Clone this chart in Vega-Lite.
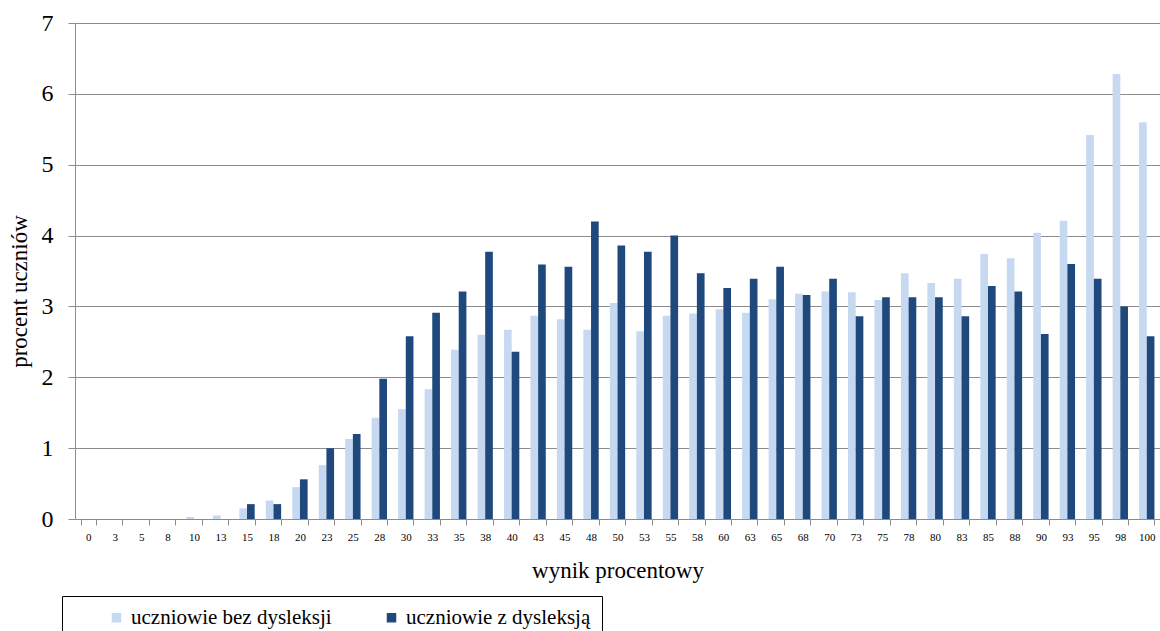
{
  "$schema": "https://vega.github.io/schema/vega-lite/v6.json",
  "autosize": {"type": "none"},
  "padding": {"left": 75, "top": 23, "right": 0, "bottom": 112},
  "width": 1085,
  "height": 496,
  "background": "white",
  "config": {
    "font": "Liberation Serif, DejaVu Serif, serif",
    "axis": {"labelFont": "Liberation Serif, DejaVu Serif, serif", "titleFont": "Liberation Serif, DejaVu Serif, serif"},
    "legend": {"labelFont": "Liberation Serif, DejaVu Serif, serif", "titleFont": "Liberation Serif, DejaVu Serif, serif"},
    "view": {"stroke": null}
  },
  "data": {
    "values": [
      {"wynik": "0", "grupa": "bez", "procent": 0}, {"wynik": "0", "grupa": "z", "procent": 0},
      {"wynik": "3", "grupa": "bez", "procent": 0}, {"wynik": "3", "grupa": "z", "procent": 0},
      {"wynik": "5", "grupa": "bez", "procent": 0}, {"wynik": "5", "grupa": "z", "procent": 0},
      {"wynik": "8", "grupa": "bez", "procent": 0}, {"wynik": "8", "grupa": "z", "procent": 0},
      {"wynik": "10", "grupa": "bez", "procent": 0.03}, {"wynik": "10", "grupa": "z", "procent": 0},
      {"wynik": "13", "grupa": "bez", "procent": 0.05}, {"wynik": "13", "grupa": "z", "procent": 0},
      {"wynik": "15", "grupa": "bez", "procent": 0.15}, {"wynik": "15", "grupa": "z", "procent": 0.21},
      {"wynik": "18", "grupa": "bez", "procent": 0.26}, {"wynik": "18", "grupa": "z", "procent": 0.21},
      {"wynik": "20", "grupa": "bez", "procent": 0.45}, {"wynik": "20", "grupa": "z", "procent": 0.56},
      {"wynik": "23", "grupa": "bez", "procent": 0.76}, {"wynik": "23", "grupa": "z", "procent": 1.0},
      {"wynik": "25", "grupa": "bez", "procent": 1.13}, {"wynik": "25", "grupa": "z", "procent": 1.2},
      {"wynik": "28", "grupa": "bez", "procent": 1.43}, {"wynik": "28", "grupa": "z", "procent": 1.98},
      {"wynik": "30", "grupa": "bez", "procent": 1.55}, {"wynik": "30", "grupa": "z", "procent": 2.58},
      {"wynik": "33", "grupa": "bez", "procent": 1.83}, {"wynik": "33", "grupa": "z", "procent": 2.91},
      {"wynik": "35", "grupa": "bez", "procent": 2.39}, {"wynik": "35", "grupa": "z", "procent": 3.21},
      {"wynik": "38", "grupa": "bez", "procent": 2.6}, {"wynik": "38", "grupa": "z", "procent": 3.77},
      {"wynik": "40", "grupa": "bez", "procent": 2.67}, {"wynik": "40", "grupa": "z", "procent": 2.36},
      {"wynik": "43", "grupa": "bez", "procent": 2.87}, {"wynik": "43", "grupa": "z", "procent": 3.59},
      {"wynik": "45", "grupa": "bez", "procent": 2.82}, {"wynik": "45", "grupa": "z", "procent": 3.56},
      {"wynik": "48", "grupa": "bez", "procent": 2.67}, {"wynik": "48", "grupa": "z", "procent": 4.2},
      {"wynik": "50", "grupa": "bez", "procent": 3.05}, {"wynik": "50", "grupa": "z", "procent": 3.86},
      {"wynik": "53", "grupa": "bez", "procent": 2.65}, {"wynik": "53", "grupa": "z", "procent": 3.77},
      {"wynik": "55", "grupa": "bez", "procent": 2.87}, {"wynik": "55", "grupa": "z", "procent": 4.0},
      {"wynik": "58", "grupa": "bez", "procent": 2.9}, {"wynik": "58", "grupa": "z", "procent": 3.47},
      {"wynik": "60", "grupa": "bez", "procent": 2.96}, {"wynik": "60", "grupa": "z", "procent": 3.26},
      {"wynik": "63", "grupa": "bez", "procent": 2.91}, {"wynik": "63", "grupa": "z", "procent": 3.39},
      {"wynik": "65", "grupa": "bez", "procent": 3.1}, {"wynik": "65", "grupa": "z", "procent": 3.56},
      {"wynik": "68", "grupa": "bez", "procent": 3.18}, {"wynik": "68", "grupa": "z", "procent": 3.16},
      {"wynik": "70", "grupa": "bez", "procent": 3.21}, {"wynik": "70", "grupa": "z", "procent": 3.39},
      {"wynik": "73", "grupa": "bez", "procent": 3.2}, {"wynik": "73", "grupa": "z", "procent": 2.86},
      {"wynik": "75", "grupa": "bez", "procent": 3.09}, {"wynik": "75", "grupa": "z", "procent": 3.13},
      {"wynik": "78", "grupa": "bez", "procent": 3.47}, {"wynik": "78", "grupa": "z", "procent": 3.13},
      {"wynik": "80", "grupa": "bez", "procent": 3.33}, {"wynik": "80", "grupa": "z", "procent": 3.13},
      {"wynik": "83", "grupa": "bez", "procent": 3.39}, {"wynik": "83", "grupa": "z", "procent": 2.86},
      {"wynik": "85", "grupa": "bez", "procent": 3.74}, {"wynik": "85", "grupa": "z", "procent": 3.29},
      {"wynik": "88", "grupa": "bez", "procent": 3.68}, {"wynik": "88", "grupa": "z", "procent": 3.21},
      {"wynik": "90", "grupa": "bez", "procent": 4.04}, {"wynik": "90", "grupa": "z", "procent": 2.61},
      {"wynik": "93", "grupa": "bez", "procent": 4.21}, {"wynik": "93", "grupa": "z", "procent": 3.6},
      {"wynik": "95", "grupa": "bez", "procent": 5.42}, {"wynik": "95", "grupa": "z", "procent": 3.39},
      {"wynik": "98", "grupa": "bez", "procent": 6.28}, {"wynik": "98", "grupa": "z", "procent": 3.0},
      {"wynik": "100", "grupa": "bez", "procent": 5.6}, {"wynik": "100", "grupa": "z", "procent": 2.58}
    ]
  },
  "mark": {"type": "bar"},
  "encoding": {
    "x": {
      "field": "wynik",
      "type": "nominal",
      "sort": null,
      "scale": {"paddingInner": 0.42, "paddingOuter": 0.21},
      "axis": {
        "title": "wynik procentowy",
        "titleFontSize": 23,
        "titleFontWeight": "normal",
        "titleColor": "#000000",
        "titlePadding": 17,
        "labelAngle": 0,
        "labelFontSize": 11,
        "labelColor": "#000000",
        "labelPadding": 6,
        "tickBand": "extent",
        "tickSize": 6,
        "tickColor": "#8c8c8c",
        "domainColor": "#8c8c8c",
        "grid": false
      }
    },
    "xOffset": {
      "field": "grupa",
      "type": "nominal",
      "scale": {"paddingInner": 0, "paddingOuter": 0}
    },
    "y": {
      "field": "procent",
      "type": "quantitative",
      "scale": {"domain": [0, 7], "nice": false},
      "axis": {
        "title": "procent uczniów",
        "titleFontSize": 23,
        "titleFontWeight": "normal",
        "titleColor": "#000000",
        "titlePadding": 10,
        "titleY": 268,
        "values": [0, 1, 2, 3, 4, 5, 6, 7],
        "labelFontSize": 24,
        "labelColor": "#000000",
        "labelPadding": 15,
        "tickSize": 7,
        "tickColor": "#8c8c8c",
        "domainColor": "#8c8c8c",
        "grid": true,
        "gridColor": "#8c8c8c",
        "gridWidth": 1
      }
    },
    "color": {
      "field": "grupa",
      "type": "nominal",
      "scale": {"domain": ["bez", "z"], "range": ["#C6D9F1", "#1F497D"]},
      "legend": {
        "orient": "none",
        "legendX": -13,
        "legendY": 573,
        "direction": "horizontal",
        "title": null,
        "labelExpr": "datum.value == 'bez' ? 'uczniowie bez dysleksji' : 'uczniowie z dysleksją'",
        "labelFontSize": 21,
        "labelColor": "#000000",
        "labelLimit": 400,
        "symbolType": "square",
        "symbolSize": 90,
        "symbolStrokeWidth": 0,
        "symbolOffset": 33,
        "labelOffset": 4,
        "gridAlign": "all",
        "columnPadding": 16,
        "padding": 11,
        "strokeColor": "#000000"
      }
    }
  }
}
